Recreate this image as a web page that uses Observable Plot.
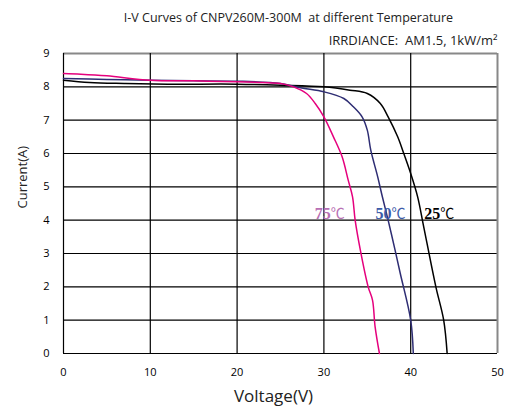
<!DOCTYPE html>
<html><head><meta charset="utf-8">
<script src="https://cdn.jsdelivr.net/npm/d3@7"></script>
<script src="https://cdn.jsdelivr.net/npm/@observablehq/plot@0.6"></script>
<style>body{margin:0;background:#fff;} svg{font-family:"Open Sans",sans-serif;}</style>
</head><body><div id="chart"></div>
<script>
const title = "I-V Curves of CNPV260M-300M  at different Temperature";
const subtitle = "IRRDIANCE:  AM1.5, 1kW/m²";
const xTicks = [0, 10, 20, 30, 40, 50];
const yTicks = [0, 1, 2, 3, 4, 5, 6, 7, 8, 9];

const v25 = [0, 3, 7, 12, 20, 25, 30, 33, 35, 36.5, 37.4, 38.5, 39.2, 40, 40.8, 41.5, 42.9, 43.8, 44.2];
const i25 = [8.2, 8.13, 8.1, 8.08, 8.08, 8.05, 8.0, 7.9, 7.8, 7.5, 7.1, 6.5, 6.0, 5.4, 4.7, 3.8, 2.0, 1.0, 0];
const v50 = [0, 5, 10, 15, 20, 25, 27.3, 30, 32.3, 33.4, 34.4, 35, 35.4, 36.2, 36.7, 37.4, 38.2, 38.8, 40, 40.3];
const i50 = [8.25, 8.22, 8.2, 8.18, 8.17, 8.1, 7.97, 7.85, 7.65, 7.4, 7.1, 6.7, 6.1, 5.3, 4.74, 4.0, 3.1, 2.4, 1.0, 0];
const v75 = [0, 2, 5, 10, 15, 20, 23, 25, 26.5, 28, 29, 30, 31.1, 32.1, 32.8, 33.3, 33.6, 34.2, 35.1, 35.6, 35.9, 36.4];
const i75 = [8.4, 8.38, 8.33, 8.2, 8.18, 8.15, 8.13, 8.1, 8.0, 7.8, 7.5, 7.1, 6.5, 5.9, 5.2, 4.7, 4.0, 3.1, 2.0, 1.6, 0.8, 0];

const seriesNames = ["25", "50", "75"];
const seriesColors = ["#000000", "#2e2d73", "#e5007d"];
const labelColors = ["#000000", "#3b5aa8", "#b86fb4"];
const labelV = [43.4, 37.8, 30.8];
const labelI = [4.2, 4.2, 4.2];

const curves = [[v25, i25], [v50, i50], [v75, i75]];
const rows = curves.flatMap(([vs, is], k) => vs.map((v, j) => ({v, i: is[j], s: seriesNames[k]})));
const labels = seriesNames.map((s, k) => ({s, v: labelV[k], i: labelI[k], c: labelColors[k]}));

const chart = Plot.plot({
  width: 512, height: 414,
  marginTop: 53, marginLeft: 63, marginRight: 15, marginBottom: 61,
  x: {domain: [0, 50], ticks: xTicks, label: null},
  y: {domain: [0, 9], ticks: yTicks, label: null},
  color: {domain: seriesNames, range: seriesColors},
  marks: [
    Plot.ruleY(yTicks, {stroke: d => d === 9 ? "#888" : "#000", strokeWidth: d => d === 9 ? 2 : 1.2}),
    Plot.ruleX(xTicks, {stroke: d => d === 50 ? "#888" : "#000", strokeWidth: d => d === 50 ? 2 : 1.2}),
    Plot.line(rows, {x: "v", y: "i", z: "s", stroke: "s", strokeWidth: 1.5, curve: "catmull-rom"}),
    Plot.text(labels, {x: "v", y: "i", text: "s", fill: "c", textAnchor: "end", fontFamily: "Liberation Serif", fontWeight: "bold", fontSize: 16}),
    Plot.text(labels, {x: "v", y: "i", text: d => "℃", fill: "c", textAnchor: "start", fontFamily: "Noto Sans CJK SC", fontSize: 14}),
    Plot.axisX({ticks: xTicks, tickSize: 0, tickPadding: 15, fontSize: 11, style: "letter-spacing:1.5px", label: null}),
    Plot.axisY({ticks: yTicks, tickSize: 0, tickPadding: 14, fontSize: 11, label: null}),
    Plot.text([title], {frameAnchor: "top", dx: 8, dy: -40, fontSize: 12.5, fill: "#222"}),
    Plot.text([subtitle], {frameAnchor: "top-right", textAnchor: "end", dy: -18, fontSize: 13, fill: "#222"}),
    Plot.text(["Current(A)"], {frameAnchor: "left", dx: -41, dy: 5, rotate: -90, fontSize: 13, fill: "#222", style: "letter-spacing:1.3px"}),
    Plot.text(["Voltage(V)"], {frameAnchor: "bottom", dx: -7, dy: 48, fontSize: 17, fill: "#222"})
  ]
});
document.getElementById("chart").append(chart);
</script>
</body></html>
